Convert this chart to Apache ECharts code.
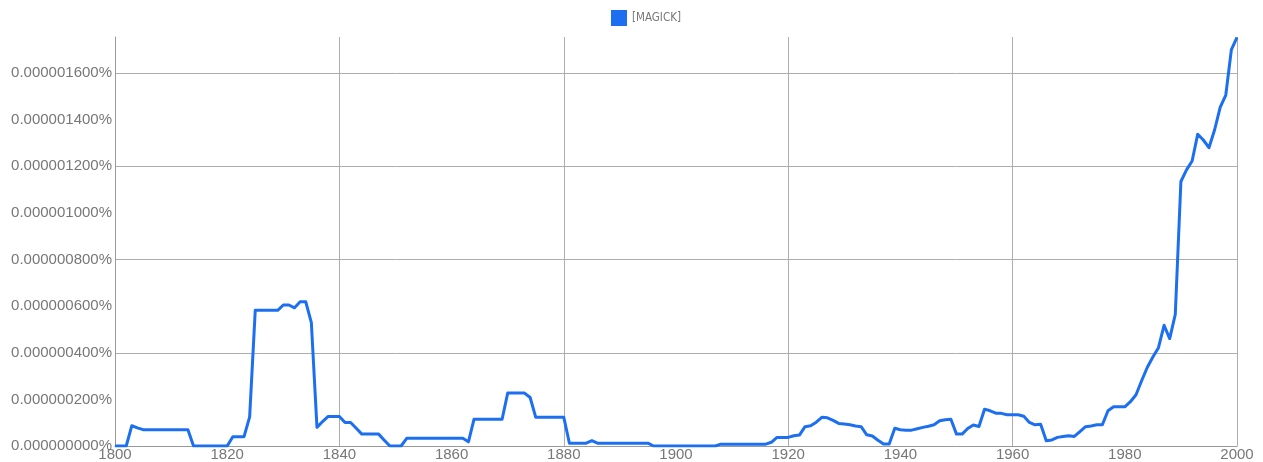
<!DOCTYPE html>
<html>
<head>
<meta charset="utf-8">
<title>[MAGICK]</title>
<script src="https://cdn.jsdelivr.net/npm/echarts@6/dist/echarts.min.js"></script>
<style>
  html, body { margin: 0; padding: 0; background: #ffffff; }
  #chart { width: 1263px; height: 462px; }
</style>
</head>
<body>
<div id="chart"></div>
<script>
// Yearly frequency of "[MAGICK]", in billionths of a percent (1e-9 %).
const seriesName = '[MAGICK]';
const firstYear = 1800;
const lastYear = 2000;
const frequencyNano = [
  // 1800-1809
  0, 0, 0, 87, 78, 70, 70, 70, 70, 70,
  // 1810-1819
  70, 70, 70, 70, 0, 0, 0, 0, 0, 0,
  // 1820-1829
  0, 40, 40, 40, 125, 582, 582, 582, 582, 582,
  // 1830-1839
  605, 605, 593, 619, 619, 529, 80, 105, 127, 127,
  // 1840-1849
  127, 101, 101, 76, 51, 51, 51, 51, 25, 0,
  // 1850-1859
  0, 0, 33, 33, 33, 33, 33, 33, 33, 33,
  // 1860-1869
  33, 33, 33, 18, 115, 115, 115, 115, 115, 115,
  // 1870-1879
  227, 227, 227, 227, 208, 123, 123, 123, 123, 123,
  // 1880-1889
  123, 12, 12, 12, 12, 23, 12, 12, 12, 12,
  // 1890-1899
  12, 12, 12, 12, 12, 12, 0, 0, 0, 0,
  // 1900-1909
  0, 0, 0, 0, 0, 0, 0, 0, 8, 8,
  // 1910-1919
  8, 8, 8, 8, 8, 8, 8, 16, 37, 37,
  // 1920-1929
  37, 44, 47, 83, 87, 102, 123, 121, 110, 97,
  // 1930-1939
  94, 91, 86, 83, 48, 43, 25, 9, 9, 76,
  // 1940-1949
  70, 68, 68, 74, 80, 85, 91, 108, 113, 115,
  // 1950-1959
  51, 51, 75, 90, 84, 158, 151, 141, 140, 134,
  // 1960-1969
  134, 134, 128, 101, 91, 93, 23, 26, 37, 41,
  // 1970-1979
  44, 41, 62, 83, 86, 91, 91, 151, 168, 168,
  // 1980-1989
  168, 190, 220, 280, 337, 382, 422, 518, 461, 565,
  // 1990-1999
  1135, 1185, 1223, 1338, 1313, 1280, 1356, 1453, 1506, 1701,
  // 2000
  1753
];

const years = [];
for (let y = firstYear; y <= lastYear; y++) years.push(y);
const points = years.map((y, i) => [y, frequencyNano[i]]);

const FONT = '"Liberation Sans", Arial, Helvetica, sans-serif';
const NARROW = '"Liberation Sans Narrow", "Arial Narrow", "DejaVu Sans Condensed", sans-serif';
const TEXT = '#777777';
const GRID = '#adadad';
const AXIS = '#999999';
const BLUE = '#1c6ff0';
const Y_MAX = 1755;

const pctLabel = v => (v * 1e-9).toFixed(9) + '%';

const chart = echarts.init(document.getElementById('chart'), null, { renderer: 'canvas' });
chart.setOption({
  animation: false,
  backgroundColor: '#ffffff',
  textStyle: { fontFamily: FONT },
  legend: {
    top: 10,
    left: 611,
    padding: 0,
    icon: 'rect',
    itemWidth: 16,
    itemHeight: 16,
    data: [seriesName],
    textStyle: { fontFamily: NARROW, fontSize: 11.5, color: TEXT }
  },
  grid: { left: 115, right: 26, top: 37, bottom: 15 },
  xAxis: [
    {
      type: 'value', min: firstYear, max: lastYear, interval: 20,
      axisLine: { show: true, lineStyle: { color: AXIS, width: 1 } },
      axisTick: { show: false },
      splitLine: { show: false },
      axisLabel: { fontFamily: FONT, fontSize: 15, color: TEXT, margin: 1, formatter: v => String(v) }
    },
    {
      // grid lines every 40 years
      type: 'value', min: firstYear, max: lastYear, interval: 40, position: 'top',
      axisLine: { show: false }, axisTick: { show: false }, axisLabel: { show: false },
      splitLine: { show: true, lineStyle: { color: GRID, width: 1 } }
    }
  ],
  yAxis: [
    {
      type: 'value', min: 0, max: Y_MAX, interval: 200,
      axisLine: { show: true, lineStyle: { color: AXIS, width: 1 } },
      axisTick: { show: false },
      splitLine: { show: false },
      axisLabel: {
        fontFamily: FONT, fontSize: 15, color: TEXT, margin: 3,
        showMaxLabel: false,
        formatter: v => (v % 200 === 0 ? pctLabel(v) : '')
      }
    },
    {
      // grid lines every 400
      type: 'value', min: 0, max: Y_MAX, interval: 400, position: 'right',
      axisLine: { show: false }, axisTick: { show: false }, axisLabel: { show: false },
      splitLine: { show: true, showMinLine: false, showMaxLine: false, lineStyle: { color: GRID, width: 1 } }
    }
  ],
  series: [
    {
      name: seriesName,
      type: 'line',
      data: points,
      xAxisIndex: 0,
      yAxisIndex: 0,
      showSymbol: false,
      symbol: 'none',
      smooth: false,
      color: BLUE,
      lineStyle: { color: BLUE, width: 3, join: 'round' },
      z: 5
    }
  ]
});
</script>
</body>
</html>
